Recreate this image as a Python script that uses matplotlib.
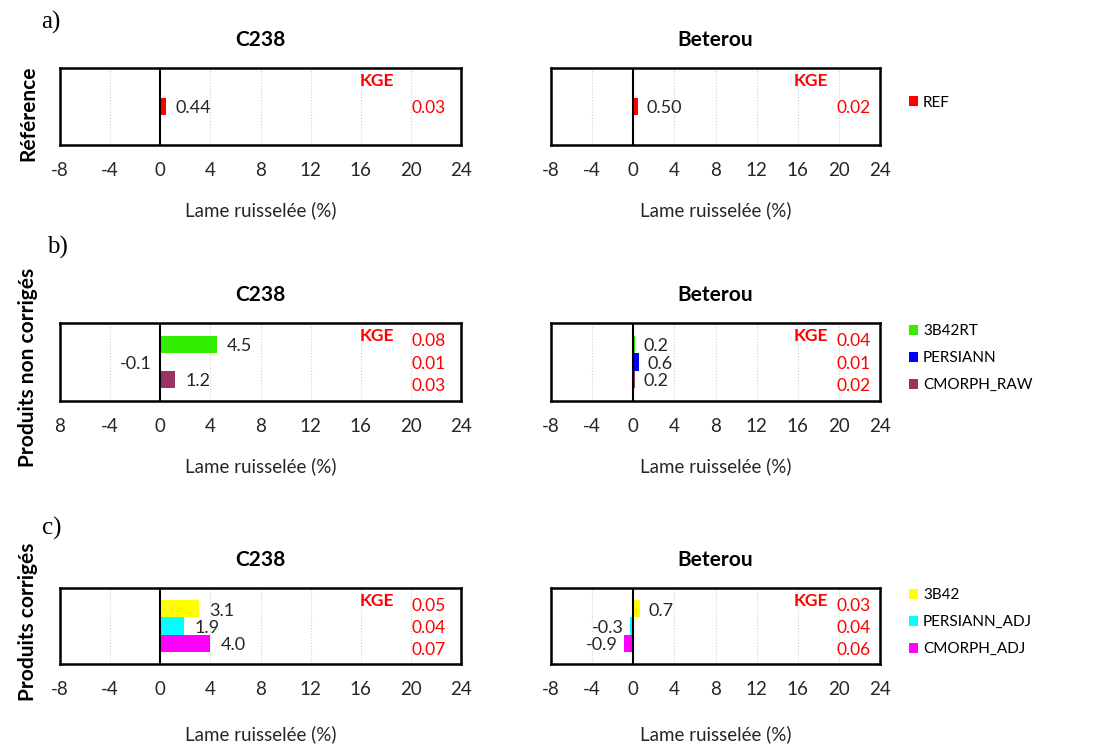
import matplotlib
matplotlib.use("Agg")
import matplotlib.pyplot as plt

plt.rcParams['font.family'] = ['Lato', 'DejaVu Sans']

# donnees
stations = ["C238", "Beterou"]

ref_products = ["REF"]
ref_colors = ["#ff0000"]
ref_lame = [[0.44], [0.50]]
ref_kge = [[0.03], [0.02]]

raw_products = ["3B42RT", "PERSIANN", "CMORPH_RAW"]
raw_colors = ["#33ee00", "#0000ff", "#993366"]
raw_lame = [[4.5, -0.1, 1.2], [0.2, 0.6, 0.2]]
raw_kge = [[0.08, 0.01, 0.03], [0.04, 0.01, 0.02]]

adj_products = ["3B42", "PERSIANN_ADJ", "CMORPH_ADJ"]
adj_colors = ["#ffff00", "#00ffff", "#ff00ff"]
adj_lame = [[3.1, 1.9, 4.0], [0.7, -0.3, -0.9]]
adj_kge = [[0.05, 0.04, 0.07], [0.03, 0.04, 0.06]]

xticks = [-8, -4, 0, 4, 8, 12, 16, 20, 24]

rows = [
    ("a)", "Référence", ref_products, ref_colors, ref_lame, ref_kge, "%.2f"),
    ("b)", "Produits non corrigés", raw_products, raw_colors, raw_lame, raw_kge, "%.1f"),
    ("c)", "Produits corrigés", adj_products, adj_colors, adj_lame, adj_kge, "%.1f"),
]

W, H = 1104, 751
fig = plt.figure(figsize=(W / 100, H / 100), dpi=100)

# positions en pixels (gauche, droite), (haut, bas)
xpos = [(60, 461), (551, 880)]
ypos = [(68, 145), (323, 401), (588, 664)]
label_pad = [16, 16, 20]
row_label_y = [113, 367, 622]
letter_pos = [(51, 22), (57, 247), (52, 528)]

for r, (lettre, nom, prods, cols, lame, kge, fmt) in enumerate(rows):
    y0, y1 = ypos[r]
    n = len(prods)
    c = (n - 1) / 2
    for s in range(2):
        x0, x1 = xpos[s]
        ax = fig.add_axes([x0 / W, 1 - y1 / H, (x1 - x0) / W, (y1 - y0) / H])
        pos = list(range(n))
        for i in pos:
            ax.barh(i, lame[s][i], height=1.0, color=cols[i], label=prods[i], zorder=3)
            v = lame[s][i]
            if v >= 0:
                ax.text(v + 0.8, i + 0.1, fmt % v, ha="left", va="center", fontsize=13, color="#262626")
            else:
                ax.text(v - 0.6, i + 0.1, fmt % v, ha="right", va="center", fontsize=13, color="#262626")
            ax.text(21.4, c + 0.1 + (i - c) * 1.3, "%.2f" % kge[s][i], ha="center", va="center",
                    fontsize=12.5, color="#ff0000")
        ax.text(17.3, 0.83, "KGE", transform=ax.get_xaxis_transform(), ha="center", va="center",
                fontsize=12.5, color="#ff0000", fontweight="bold")
        ax.set_xlim(-8, 24)
        ax.set_ylim(c + 2.23, c - 2.23)
        ax.set_xticks(xticks)
        labels = [str(t) for t in xticks]
        if r == 1 and s == 0:
            labels[0] = "8"
        ax.set_xticklabels(labels, fontsize=13.5, color="#262626")
        ax.set_yticks([])
        ax.tick_params(axis="x", length=0, pad=12)
        ax.grid(axis="x", linestyle=":", color="#d0d0d0", linewidth=0.8, zorder=0)
        ax.axvline(0, color="black", linewidth=1.5, zorder=4)
        for sp in ax.spines.values():
            sp.set_linewidth(1.8)
            sp.set_color("black")
        ax.set_xlabel("Lame ruisselée (%)", fontsize=13.5, color="#262626", labelpad=label_pad[r])
        ax.set_title(stations[s], fontsize=15, fontweight="bold", pad=16)
        if s == 1:
            ax.legend(loc="center left", bbox_to_anchor=(1.07, 0.55), frameon=False,
                      fontsize=11, handlelength=0.6, handleheight=0.6, handletextpad=0.3,
                      labelspacing=0.85, borderaxespad=0)
    fig.text(28 / W, 1 - row_label_y[r] / H, nom, rotation=90, ha="center", va="center",
             fontsize=15, fontweight="bold")
    fig.text(letter_pos[r][0] / W, 1 - letter_pos[r][1] / H, lettre, ha="center", va="center",
             fontsize=18, family="Liberation Serif")

fig.savefig("out.png", dpi=100)
